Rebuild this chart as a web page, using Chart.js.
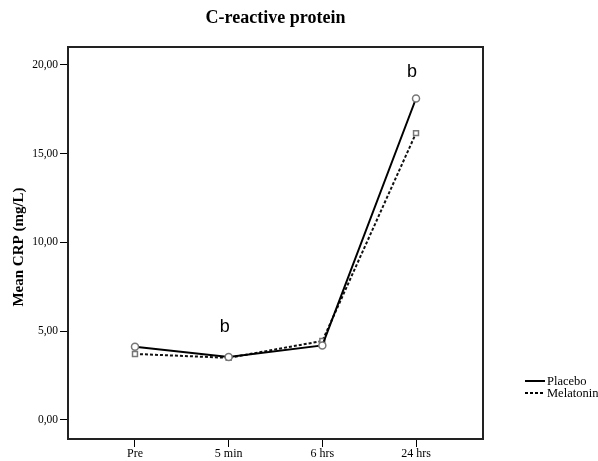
<!DOCTYPE html>
<html>
<head>
<meta charset="utf-8">
<script src="https://cdn.jsdelivr.net/npm/chart.js@4/dist/chart.umd.min.js"></script>
<style>
  html, body { margin: 0; padding: 0; background: #fff; }
  #wrap { width: 598px; height: 461px; }
</style>
</head>
<body>
<div id="wrap"><canvas id="c" width="598" height="461"></canvas></div>
<script>
// Time points and mean CRP (mg/L) per group
const categories = ['Pre', '5 min', '6 hrs', '24 hrs'];
const placebo = [4.13, 3.55, 4.2, 18.1];
const melatonin = [3.72, 3.5, 4.45, 16.15];
const yTicks = [0, 5, 10, 15, 20];
// significance markers: [text, category index, y position]
const sigLabels = [['b', 1, 5.26], ['b', 3, 19.6]];

const serif = '"Liberation Serif", "Times New Roman", serif';

function toPoints(arr) { return arr.map((v, i) => ({ x: i, y: v })); }

const decorations = {
  id: 'decorations',
  beforeDatasetsDraw(chart) {
    const { ctx, chartArea: a } = chart;
    ctx.save();
    ctx.strokeStyle = '#222';
    ctx.lineWidth = 2;
    ctx.strokeRect(a.left, a.top, a.right - a.left, a.bottom - a.top);
    ctx.restore();
  },
  afterDraw(chart) {
    const { ctx, chartArea: a, scales } = chart;
    ctx.save();
    // title
    ctx.fillStyle = '#000';
    ctx.font = 'bold 18px ' + serif;
    ctx.textAlign = 'center';
    ctx.textBaseline = 'middle';
    ctx.fillText('C-reactive protein', (a.left + a.right) / 2, 18);
    // y axis title
    ctx.save();
    ctx.translate(19, (a.top + a.bottom) / 2 + 4);
    ctx.rotate(-Math.PI / 2);
    ctx.font = 'bold 15px ' + serif;
    ctx.fillText('Mean CRP (mg/L)', 0, 0);
    ctx.restore();
    // significance letters
    ctx.font = '18px "Liberation Sans", Arial, sans-serif';
    sigLabels.forEach(([t, xi, yv]) => {
      ctx.fillText(t, scales.x.getPixelForValue(xi) - 4, scales.y.getPixelForValue(yv));
    });
    // legend
    ctx.font = '12.5px ' + serif;
    ctx.textAlign = 'left';
    chart.data.datasets.forEach((ds, i) => {
      const y = 381 + i * 12;
      ctx.strokeStyle = '#000';
      ctx.lineWidth = 2;
      ctx.setLineDash(ds.borderDash || []);
      ctx.beginPath();
      ctx.moveTo(525, y);
      ctx.lineTo(545, y);
      ctx.stroke();
      ctx.setLineDash([]);
      ctx.fillText(ds.label, 547, y + 1);
    });
    ctx.restore();
  }
};

new Chart(document.getElementById('c'), {
  type: 'line',
  data: {
    datasets: [
      {
        label: 'Placebo',
        data: toPoints(placebo),
        borderColor: '#000',
        borderWidth: 2,
        pointStyle: 'circle',
        pointRadius: 3.5,
        pointBorderWidth: 1.5,
        pointBorderColor: '#777',
        pointBackgroundColor: '#fff',
        tension: 0
      },
      {
        label: 'Melatonin',
        data: toPoints(melatonin),
        borderColor: '#111',
        borderWidth: 2,
        borderDash: [3, 2],
        pointStyle: 'rect',
        pointRadius: 3.5,
        pointBorderWidth: 1.5,
        pointBorderColor: '#777',
        pointBackgroundColor: '#fff',
        tension: 0
      }
    ]
  },
  options: {
    responsive: false,
    animation: false,
    events: [],
    layout: { padding: { top: 47, right: 115, bottom: 0, left: 0 } },
    plugins: { legend: { display: false }, title: { display: false }, tooltip: { enabled: false } },
    scales: {
      x: {
        type: 'linear',
        min: -0.715,
        max: 3.715,
        afterBuildTicks(s) { s.ticks = categories.map((_, i) => ({ value: i })); },
        afterFit(s) { s.height = 22; },
        grid: { drawOnChartArea: false, drawTicks: true, tickLength: 8, color: '#000', lineWidth: 1 },
        border: { display: false },
        ticks: {
          padding: 0,
          color: '#000',
          font: { family: serif, size: 12 },
          maxRotation: 0,
          callback: (v) => categories[v]
        }
      },
      y: {
        type: 'linear',
        min: -1.07,
        max: 21.0,
        afterBuildTicks(s) { s.ticks = yTicks.map(v => ({ value: v })); },
        afterFit(s) { s.width = 68; },
        grid: { drawOnChartArea: false, drawTicks: true, tickLength: 8, color: '#000', lineWidth: 1 },
        border: { display: false },
        ticks: {
          padding: 2,
          color: '#000',
          font: { family: serif, size: 11.5 },
          callback: (v) => v.toFixed(2).replace('.', ',')
        }
      }
    }
  },
  plugins: [decorations]
});
</script>
</body>
</html>
